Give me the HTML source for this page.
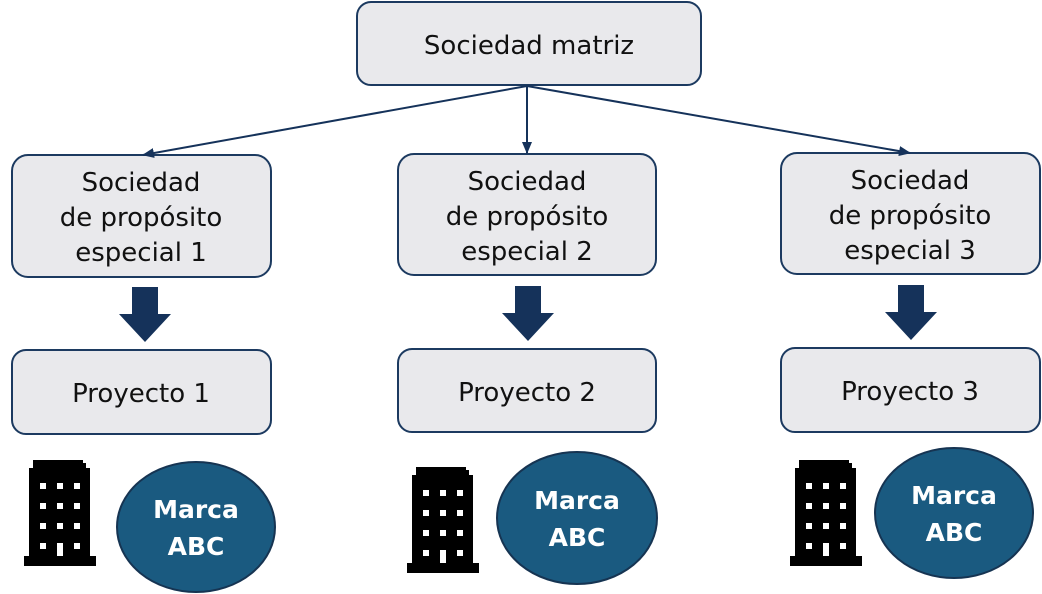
<!DOCTYPE html>
<html><head><meta charset="utf-8"><style>
html,body{margin:0;padding:0;background:#fff;}
svg{display:block;}
.t{font-family:"DejaVu Sans","Liberation Sans",sans-serif;font-size:26px;fill:#111;text-anchor:middle;}
.m{font-family:"DejaVu Sans","Liberation Sans",sans-serif;font-size:25px;font-weight:bold;fill:#fff;text-anchor:middle;}
</style></head><body>
<svg width="1042" height="594" viewBox="0 0 1042 594" xmlns="http://www.w3.org/2000/svg">
<defs>
<marker id="ah" markerWidth="12" markerHeight="10" refX="11" refY="5" orient="auto" markerUnits="userSpaceOnUse">
<path d="M0,0 L12,5 L0,10 Z" fill="#15325a"/></marker>
<g id="bld">
<path d="M9,0 H59 V3 H62 V8 H66 V96 H72 V106 H0 V96 H5 V8 H9 Z" fill="#000"/>
<g fill="#fff">
<rect x="16" y="23" width="6" height="6"/><rect x="33" y="23" width="6" height="6"/><rect x="50" y="23" width="6" height="6"/>
<rect x="16" y="43" width="6" height="6"/><rect x="33" y="43" width="6" height="6"/><rect x="50" y="43" width="6" height="6"/>
<rect x="16" y="63" width="6" height="6"/><rect x="33" y="63" width="6" height="6"/><rect x="50" y="63" width="6" height="6"/>
<rect x="16" y="83" width="6" height="6"/><rect x="33" y="83" width="6" height="13"/><rect x="50" y="83" width="6" height="6"/>
</g></g>
<path id="barr" d="M-13,0 H13 V27 H26 L0,55 L-26,27 H-13 Z" fill="#15325a"/>
</defs>
<g fill="#e9e9ec" stroke="#1c3a60" stroke-width="2">
<rect x="357" y="2" width="344" height="83" rx="14"/>
<rect x="12" y="155" width="259" height="122" rx="16"/>
<rect x="398" y="154" width="258" height="121" rx="16"/>
<rect x="781" y="153" width="259" height="121" rx="16"/>
<rect x="12" y="350" width="259" height="84" rx="14"/>
<rect x="398" y="349" width="258" height="83" rx="14"/>
<rect x="781" y="348" width="259" height="84" rx="14"/>
</g>
<g stroke="#15325a" stroke-width="2" fill="none" marker-end="url(#ah)">
<line x1="527" y1="86" x2="143" y2="155"/>
<line x1="527" y1="86" x2="527" y2="153"/>
<line x1="527" y1="86" x2="910" y2="153"/>
</g>
<text class="t" x="529" y="54">Sociedad matriz</text>
<text class="t" x="141" y="191">Sociedad</text><text class="t" x="141" y="226">de propósito</text><text class="t" x="141" y="261">especial 1</text>
<text class="t" x="527" y="190">Sociedad</text><text class="t" x="527" y="225">de propósito</text><text class="t" x="527" y="260">especial 2</text>
<text class="t" x="910" y="189">Sociedad</text><text class="t" x="910" y="224">de propósito</text><text class="t" x="910" y="259">especial 3</text>
<text class="t" x="141" y="402">Proyecto 1</text>
<text class="t" x="527" y="401">Proyecto 2</text>
<text class="t" x="910" y="400">Proyecto 3</text>
<use href="#barr" x="145" y="287"/>
<use href="#barr" x="528" y="286"/>
<use href="#barr" x="911" y="285"/>
<use href="#bld" x="24" y="460"/>
<use href="#bld" x="407" y="467"/>
<use href="#bld" x="790" y="460"/>
<g fill="#1a5a80" stroke="#163452" stroke-width="2">
<ellipse cx="196" cy="527" rx="79" ry="65"/>
<ellipse cx="577" cy="518" rx="80" ry="66"/>
<ellipse cx="954" cy="513" rx="79" ry="65"/>
</g>
<text class="m" x="196" y="518">Marca</text><text class="m" x="196" y="555">ABC</text>
<text class="m" x="577" y="509">Marca</text><text class="m" x="577" y="546">ABC</text>
<text class="m" x="954" y="504">Marca</text><text class="m" x="954" y="541">ABC</text>
</svg>
</body></html>
